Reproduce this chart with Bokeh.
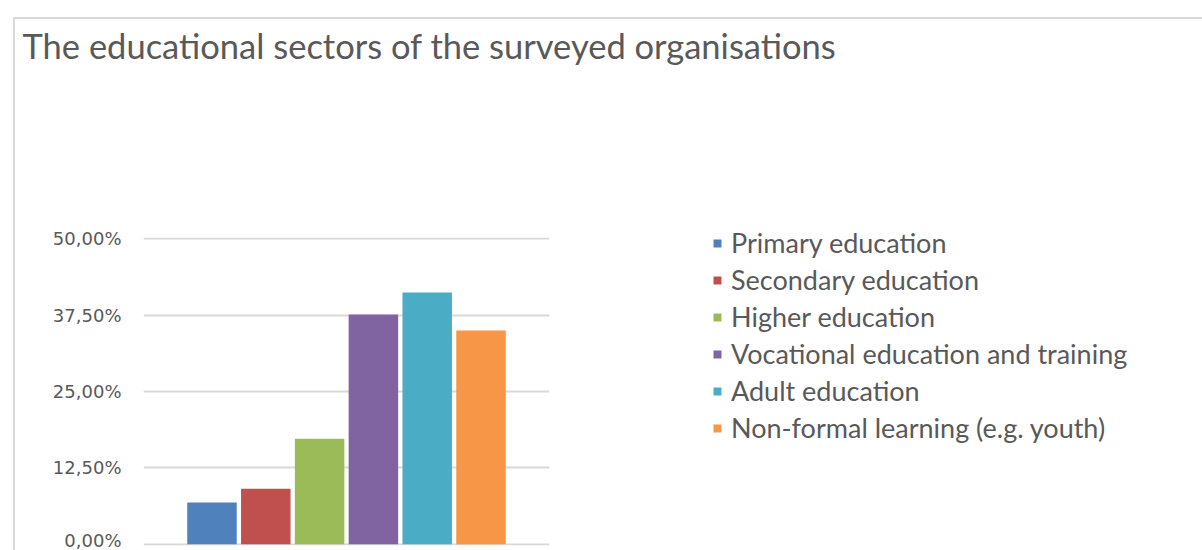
from bokeh.plotting import figure
from bokeh.models import ColumnDataSource, Range1d, FixedTicker, Legend, LegendItem, Title
from bokeh.embed import file_html
from bokeh.resources import INLINE

# ---- data ----
title_text = "The educational sectors of the surveyed organisations"
categories = ["Primary education", "Secondary education", "Higher education",
              "Vocational education and training", "Adult education",
              "Non-formal learning (e.g. youth)"]
values = [6.85, 9.1, 17.25, 37.6, 41.2, 35.0]
colors = ["#4F81BD", "#C0504D", "#9BBB59", "#8064A2", "#4BACC6", "#F79646"]
tick_values = [0, 12.5, 25, 37.5, 50]
tick_labels = ["0,00%", "12,50%", "25,00%", "37,50%", "50,00%"]

FONT = "Lato"
TEXT = "#595959"

positions = list(range(len(categories)))
src = ColumnDataSource(dict(x=positions, top=values, color=colors, label=categories))

p = figure(frame_width=406, frame_height=308, output_backend="svg", toolbar_location=None,
           x_range=Range1d(-1.273, 6.273), y_range=Range1d(-0.2, 50.2),
           min_border_left=128, min_border_right=0, min_border_top=0,
           min_border_bottom=5, title=None)
p.margin = (17, 0, 0, 13)
p.styles = {"border-top": "2px solid #d9d9d9", "border-left": "2px solid #d9d9d9"}
p.outline_line_color = None
p.background_fill_color = "white"
p.border_fill_color = "white"

# spacer (closest to the frame), then the real title (outermost)
spacer = Title(text=" ", text_font_size="1px", standoff=162, text_color="white")
p.add_layout(spacer, "above")
title = Title(text=title_text, align="left", offset=-121, standoff=10,
              vertical_align="top", text_font=FONT, text_font_size="34.5px",
              text_font_style="normal", text_color=TEXT)
p.add_layout(title, "above")

r = p.vbar(x="x", top="top", bottom=0, width=0.92, color="color", line_color=None,
           source=src)

p.xaxis.visible = False
p.xgrid.visible = False
p.yaxis.ticker = FixedTicker(ticks=tick_values)
p.yaxis.major_label_overrides = {v: l for v, l in zip(tick_values, tick_labels)}
p.yaxis.axis_line_color = None
p.yaxis.major_tick_line_color = None
p.yaxis.minor_tick_line_color = None
p.yaxis.major_tick_out = 0
p.yaxis.major_label_standoff = 22
p.yaxis.major_label_text_font = "DejaVu Sans"
p.yaxis.major_label_text_font_size = "18px"
p.yaxis.major_label_text_color = TEXT
p.ygrid.grid_line_color = "#d9d9d9"
p.ygrid.grid_line_width = 2

items = [LegendItem(label=c, renderers=[r], index=i) for i, c in enumerate(categories)]
legend = Legend(items=items, location=(163, 101), orientation="vertical",
                glyph_width=10, glyph_height=10, label_standoff=9, spacing=4,
                label_height=32, padding=0, margin=0, border_line_color=None,
                background_fill_alpha=0, label_text_font=FONT,
                label_text_font_size="27px", label_text_color=TEXT)
p.add_layout(legend, "right")

open("out.html", "w").write(file_html(p, INLINE))
